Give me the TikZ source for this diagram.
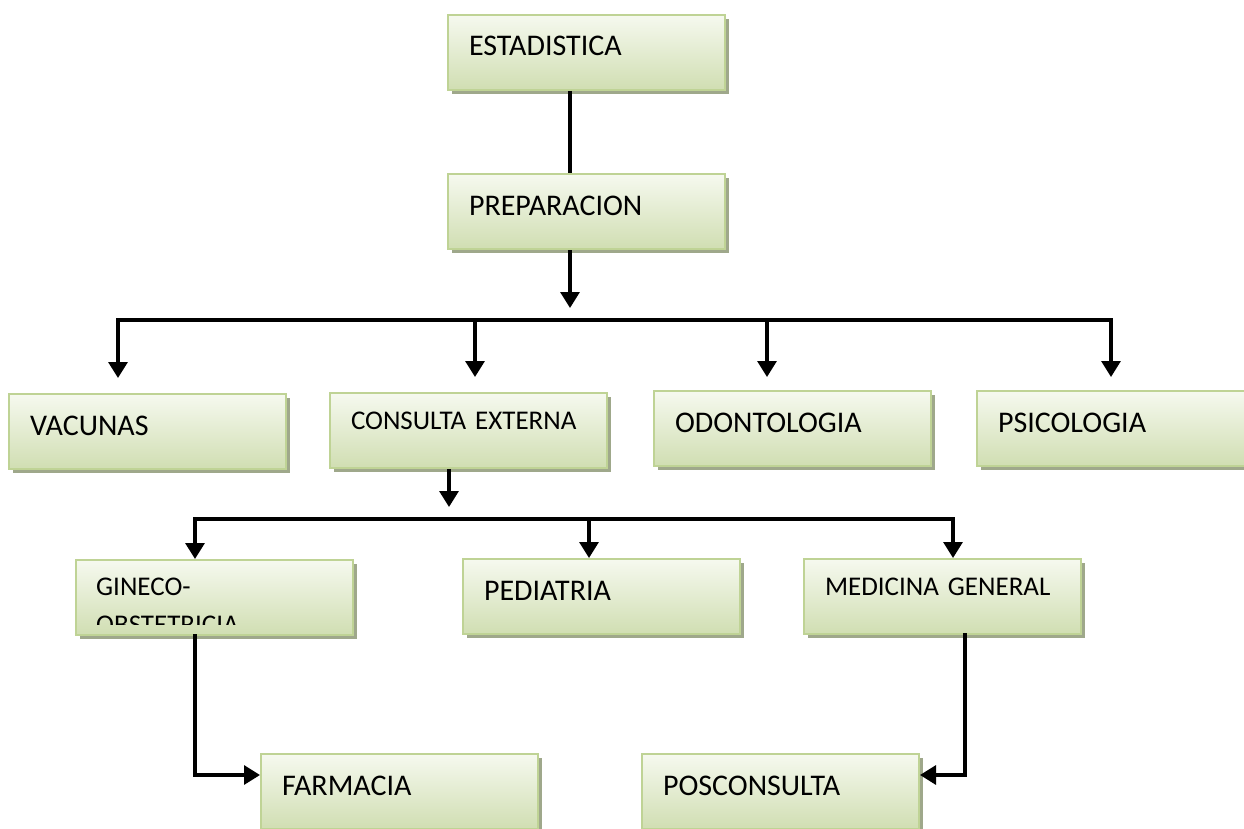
\documentclass[tikz,border=0pt]{standalone}
\usepackage{fontspec}
\setmainfont{Carlito}
\usetikzlibrary{arrows.meta,shadows,calc}
\definecolor{boxborder}{HTML}{BFD395}
\definecolor{boxtop}{HTML}{F6F9EF}
\definecolor{boxbot}{HTML}{D0DEB2}
\definecolor{boxshadow}{HTML}{9FA88B}
\tikzset{
  box/.style={anchor=north west, text width=235pt, align=left,
    inner xsep=21pt, inner ysep=0pt, text height=41pt, text depth=34pt,
    draw=boxborder, line width=2pt, top color=boxtop, bottom color=boxbot,
    drop shadow={shadow xshift=3.5pt, shadow yshift=-4pt, fill=boxshadow, opacity=1},
    font=\fontsize{30}{36}\selectfont, text=black},
  smallbox/.style={box, text height=36pt, text depth=39pt, font=\fontsize{27}{33}\selectfont},
  conn/.style={line width=3.2pt, draw=black},
  arr/.style={conn, -{Triangle[length=16pt,width=19pt]}},
}
\begin{document}
\begin{tikzpicture}[x=1pt,y=1pt]
\useasboundingbox (0,0) rectangle (1244,-829);
% boxes
\node[box] (est) at (447,-14) {ESTADISTICA};
\node[box] (prep) at (447,-173) {PREPARACION};
\node[box] (vac) at (8,-393) {VACUNAS};
\node[smallbox] (cons) at (329,-392) {CONSULTA EXTERNA};
\node[box] (odo) at (653,-390) {ODONTOLOGIA};
\node[box] (psi) at (976,-390) {PSICOLOGIA};
\node[smallbox] (gin) at (75,-559) {};
\begin{scope}
  \clip (75,-559) rectangle (352,-624);
  \node[anchor=base west, inner sep=0pt, align=left, font=\fontsize{27}{38}\selectfont] (gintext) at (96,-633) {GINECO-\\OBSTETRICIA};
\end{scope}
\node[box] (ped) at (462,-558) {PEDIATRIA};
\node[smallbox] (med) at (803,-558) {MEDICINA GENERAL};
\node[box] (far) at (260,-753) {FARMACIA};
\node[box] (pos) at (641,-753) {POSCONSULTA};
% junction coordinates
\coordinate (t1) at (570,-308);
\coordinate (b1l) at (118,-320);
\coordinate (b1a) at (475,-320);
\coordinate (b1b) at (767,-320);
\coordinate (b1r) at (1111,-320);
\coordinate (t2) at (449,-507);
\coordinate (b2l) at (195,-519);
\coordinate (b2m) at (589,-519);
\coordinate (b2r) at (953,-519);
\coordinate (g) at (195,-775);
\coordinate (m) at (965,-775);
% connectors
\draw[conn] (est.south -| t1) -- (prep.north -| t1);
\draw[arr] (prep.south -| t1) -- (t1);
\draw[conn, line cap=rect] (b1l) -- (b1r);
\draw[arr] (b1l) -- ($(vac.north -| b1l)+(0,15)$);
\draw[arr] (b1a) -- ($(cons.north -| b1a)+(0,15)$);
\draw[arr] (b1b) -- ($(odo.north -| b1b)+(0,13)$);
\draw[arr] (b1r) -- ($(psi.north -| b1r)+(0,13)$);
\draw[arr] (cons.south -| t2) -- (t2);
\draw[conn, line cap=rect] (b2l) -- (b2r);
\draw[arr] (b2l) -- (gin.north -| b2l);
\draw[arr] (b2m) -- (ped.north -| b2m);
\draw[arr] (b2r) -- (med.north -| b2r);
\draw[arr, line cap=rect] (gin.south -| g) -- (g) -- (far.west |- g);
\draw[arr, line cap=rect] (med.south -| m) -- (m) -- (pos.east |- m);
\end{tikzpicture}
\end{document}
